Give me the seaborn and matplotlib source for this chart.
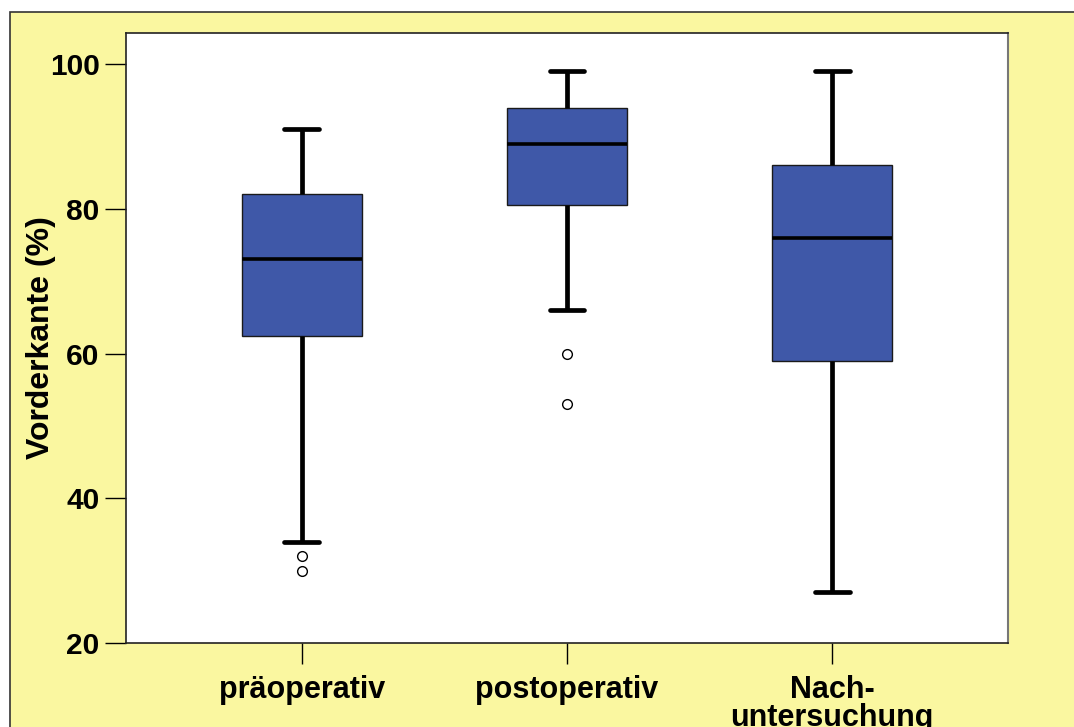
import matplotlib
matplotlib.use("Agg")
import matplotlib.pyplot as plt
import seaborn as sns
import pandas as pd
from matplotlib.patches import Rectangle

# Values (whisker ends, quartiles, median, outliers),
# arranged so the computed box statistics reproduce the drawn boxes.
categories = ["präoperativ", "postoperativ", "Nach-\nuntersuchung"]
pre_values = [30, 32, 34, 62.4, 62.4, 73, 73, 73, 82, 82, 82, 91, 91]
post_values = [53, 60, 66, 80.5, 80.5, 89, 89, 89, 94, 94, 94, 99, 99]
nach_values = [27, 59, 76, 86, 99]
y_ticks = [20, 40, 60, 80, 100]
y_label = "Vorderkante (%)"

rows = []
for cat, vals in zip(categories, [pre_values, post_values, nach_values]):
    for v in vals:
        rows.append({"group": cat, "value": v})
df = pd.DataFrame(rows)

sns.set_theme(style="white")
plt.rcParams["font.family"] = ["Liberation Sans", "DejaVu Sans"]
plt.rcParams["font.weight"] = "bold"
plt.rcParams["text.color"] = "black"
plt.rcParams["axes.labelcolor"] = "black"
plt.rcParams["xtick.color"] = "black"
plt.rcParams["ytick.color"] = "black"

fig = plt.figure(figsize=(10.74, 7.27), dpi=100, facecolor="white")
# yellow panel background
fig.patches.append(Rectangle((10 / 1074, -0.1), 1.2, (727 - 12) / 727 + 0.1,
                             transform=fig.transFigure, facecolor="#FAF7A0",
                             edgecolor="#333333", linewidth=1.2, zorder=-10))

ax = fig.add_axes([126 / 1074, 1 - 643 / 727, (1008 - 126) / 1074, (643 - 33) / 727])
ax.set_zorder(5)
ax.set_facecolor("white")

sns.boxplot(data=df, x="group", y="value", order=categories, ax=ax,
            color="#3F58A8", saturation=1, width=0.453, whis=1.5,
            linewidth=1, linecolor="black", capwidths=0.132,
            boxprops=dict(edgecolor="#1a1a1a", linewidth=1),
            whiskerprops=dict(color="black", linewidth=3.4, solid_capstyle="butt"),
            capprops=dict(color="black", linewidth=3.4, solid_capstyle="round"),
            medianprops=dict(color="black", linewidth=2.6),
            flierprops=dict(marker="o", markersize=7, markerfacecolor="white",
                            markeredgecolor="black", markeredgewidth=1))

ax.set_xlim(-0.664, 2.664)
ax.set_ylim(20, 104.3)
ax.set_yticks(y_ticks)
ax.set_yticklabels([str(t) for t in y_ticks], fontsize=21.5, fontweight="bold",
                   color="black")
ax.set_xticks(range(len(categories)))
ax.set_xticklabels(categories, fontsize=22, fontweight="bold", linespacing=0.9,
                   color="black")
ax.tick_params(axis="both", which="major", length=15, width=1, color="black",
               direction="out", bottom=True, left=True)
ax.tick_params(axis="y", pad=4)
ax.tick_params(axis="x", pad=8)
for lab in ax.get_xticklabels():
    lab.set_verticalalignment("top")
ax.set_xlabel("")
ax.set_ylabel(y_label, fontsize=23, fontweight="bold", labelpad=-4.5, color="black")

for side in ["left", "bottom", "top"]:
    ax.spines[side].set_color("#222222")
    ax.spines[side].set_linewidth(1.2)
ax.spines["right"].set_color("#777777")
ax.spines["right"].set_linewidth(1.5)

fig.savefig("out.png", dpi=100, facecolor=fig.get_facecolor())
